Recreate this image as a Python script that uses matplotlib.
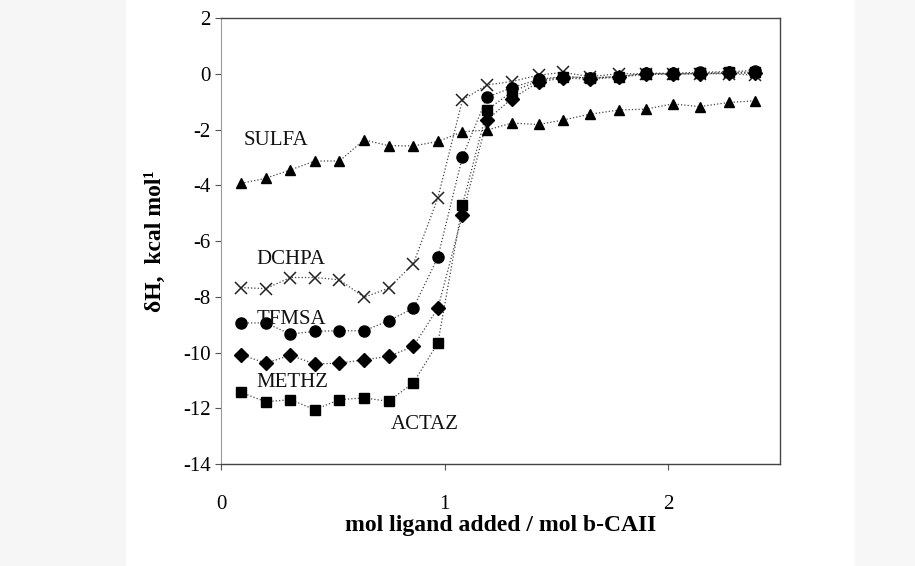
import numpy as np
import matplotlib
matplotlib.use('Agg')
import matplotlib.pyplot as plt
from matplotlib.patches import Rectangle

plt.rcParams['font.family'] = ['Liberation Serif', 'DejaVu Serif']
plt.rcParams['axes.unicode_minus'] = False

# mol ligand added / mol b-CAII (same injections for every ligand)
x = [0.09, 0.20, 0.31, 0.42, 0.53, 0.64, 0.75, 0.86, 0.97, 1.08, 1.19,
     1.30, 1.42, 1.53, 1.65, 1.78, 1.90, 2.02, 2.14, 2.27, 2.39]

sulfa = [-3.93, -3.75, -3.45, -3.13, -3.13, -2.37, -2.58, -2.59, -2.43, -2.08, -2.02,
         -1.77, -1.82, -1.66, -1.45, -1.30, -1.27, -1.08, -1.18, -1.03, -0.97]
dchpa = [-7.67, -7.71, -7.31, -7.31, -7.39, -8.02, -7.69, -6.82, -4.45, -0.94, -0.40,
         -0.28, -0.05, 0.05, -0.10, 0.00, 0.00, 0.00, 0.00, 0.00, -0.05]
tfmsa = [-8.94, -8.94, -9.34, -9.24, -9.22, -9.22, -8.86, -8.41, -6.58, -2.97, -0.84,
         -0.50, -0.20, -0.10, -0.16, -0.10, 0.02, 0.02, 0.05, 0.08, 0.11]
methz = [-10.08, -10.38, -10.10, -10.41, -10.38, -10.26, -10.14, -9.78, -8.41, -5.06, -1.65,
         -0.90, -0.30, -0.15, -0.20, -0.12, -0.02, -0.02, 0.00, 0.02, 0.02]
actaz = [-11.43, -11.77, -11.69, -12.05, -11.69, -11.63, -11.75, -11.09, -9.66, -4.70, -1.30,
         -0.65, -0.25, -0.10, -0.15, -0.10, 0.00, 0.00, 0.02, 0.05, 0.05]

series = [sulfa, dchpa, tfmsa, methz, actaz]
markers = ['^', 'x', 'o', 'D', 's']
msizes = [7.5, 9, 8, 7.5, 7]

names = ['SULFA', 'DCHPA', 'TFMSA', 'METHZ', 'ACTAZ']
name_x = [0.10, 0.16, 0.16, 0.16, 0.76]
name_y = [-2.41, -6.67, -8.82, -11.08, -12.59]

fig = plt.figure(figsize=(9.15, 5.66), dpi=100)
fig.patches.append(Rectangle((0, 0), 125 / 915, 1, transform=fig.transFigure,
                             color='#f6f6f6', zorder=-10))
fig.patches.append(Rectangle((855 / 915, 0), 60 / 915, 1, transform=fig.transFigure,
                             color='#f7f7f7', zorder=-10))
ax = fig.add_axes([0.2415, 0.1802, 0.611, 0.788])

for y, m, ms in zip(series, markers, msizes):
    ax.plot(x, y, linestyle=':', color='#444444', lw=0.9, zorder=2)
    if m == 'x':
        ax.plot(x, y, linestyle='none', marker=m, ms=ms, mew=1.1, color='#222222', zorder=3)
    else:
        ax.plot(x, y, linestyle='none', marker=m, ms=ms, color='black', zorder=3)

for n, tx, ty in zip(names, name_x, name_y):
    ax.text(tx, ty, n, fontsize=15, va='center', ha='left', color='#111111')

ax.set_xlim(0, 2.5)
ax.set_ylim(-14, 2)
ax.set_xticks([0, 1, 2])
ax.set_yticks(np.arange(-14, 3, 2))
ax.tick_params(labelsize=15, length=4, width=0.8, direction='out', colors='#555555',
               labelcolor='black')
ax.tick_params(axis='x', pad=18)

for side in ['top', 'right', 'bottom']:
    ax.spines[side].set_color('#444444')
    ax.spines[side].set_linewidth(1.0)
ax.spines['left'].set_color('#999999')
ax.spines['left'].set_linewidth(0.8)

ax.set_xlabel('mol ligand added / mol b-CAII', fontsize=17, fontweight='bold', labelpad=1)
ax.set_ylabel('δH,  kcal mol¹', fontsize=17, fontweight='bold', labelpad=12)

fig.savefig('out.png', dpi=100)
